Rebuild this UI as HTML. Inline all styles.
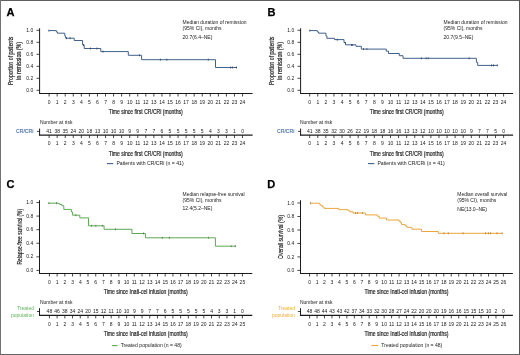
<!DOCTYPE html>
<html><head><meta charset="utf-8"><style>
html,body{margin:0;padding:0;background:#fff;}
body{width:520px;height:355px;overflow:hidden;position:relative;}
svg{position:absolute;left:0;top:0;will-change:transform;}
text{font-family:"Liberation Sans", sans-serif;}

</style></head><body>
<svg width="520" height="355" viewBox="0 0 520 355">
<rect x="0" y="0" width="520" height="355" fill="#fff"/>
<text x="6.60" y="15.60" font-size="10.6" font-weight="bold" textLength="8.00" lengthAdjust="spacingAndGlyphs" fill="#000" stroke="#000" stroke-width="0.25">A</text>
<line x1="39.60" y1="28.30" x2="39.60" y2="94.00" stroke="#1a1a1a" stroke-width="1"/>
<line x1="36.50" y1="90.30" x2="39.60" y2="90.30" stroke="#1a1a1a" stroke-width="0.8"/>
<text x="33.30" y="91.90" font-size="5.0" text-anchor="end" fill="#1a1a1a">0.0</text>
<line x1="36.50" y1="78.30" x2="39.60" y2="78.30" stroke="#1a1a1a" stroke-width="0.8"/>
<text x="33.30" y="79.90" font-size="5.0" text-anchor="end" fill="#1a1a1a">0.2</text>
<line x1="36.50" y1="66.30" x2="39.60" y2="66.30" stroke="#1a1a1a" stroke-width="0.8"/>
<text x="33.30" y="67.90" font-size="5.0" text-anchor="end" fill="#1a1a1a">0.4</text>
<line x1="36.50" y1="54.30" x2="39.60" y2="54.30" stroke="#1a1a1a" stroke-width="0.8"/>
<text x="33.30" y="55.90" font-size="5.0" text-anchor="end" fill="#1a1a1a">0.6</text>
<line x1="36.50" y1="42.30" x2="39.60" y2="42.30" stroke="#1a1a1a" stroke-width="0.8"/>
<text x="33.30" y="43.90" font-size="5.0" text-anchor="end" fill="#1a1a1a">0.8</text>
<line x1="36.50" y1="30.30" x2="39.60" y2="30.30" stroke="#1a1a1a" stroke-width="0.8"/>
<text x="33.30" y="31.90" font-size="5.0" text-anchor="end" fill="#1a1a1a">1.0</text>
<line x1="39.10" y1="93.50" x2="252.60" y2="93.50" stroke="#1a1a1a" stroke-width="1"/>
<line x1="49.10" y1="93.50" x2="49.10" y2="96.50" stroke="#1a1a1a" stroke-width="0.8"/>
<text x="49.10" y="104.30" font-size="5.0" text-anchor="middle" fill="#1a1a1a">0</text>
<line x1="57.16" y1="93.50" x2="57.16" y2="96.50" stroke="#1a1a1a" stroke-width="0.8"/>
<text x="57.16" y="104.30" font-size="5.0" text-anchor="middle" fill="#1a1a1a">1</text>
<line x1="65.22" y1="93.50" x2="65.22" y2="96.50" stroke="#1a1a1a" stroke-width="0.8"/>
<text x="65.22" y="104.30" font-size="5.0" text-anchor="middle" fill="#1a1a1a">2</text>
<line x1="73.28" y1="93.50" x2="73.28" y2="96.50" stroke="#1a1a1a" stroke-width="0.8"/>
<text x="73.28" y="104.30" font-size="5.0" text-anchor="middle" fill="#1a1a1a">3</text>
<line x1="81.34" y1="93.50" x2="81.34" y2="96.50" stroke="#1a1a1a" stroke-width="0.8"/>
<text x="81.34" y="104.30" font-size="5.0" text-anchor="middle" fill="#1a1a1a">4</text>
<line x1="89.40" y1="93.50" x2="89.40" y2="96.50" stroke="#1a1a1a" stroke-width="0.8"/>
<text x="89.40" y="104.30" font-size="5.0" text-anchor="middle" fill="#1a1a1a">5</text>
<line x1="97.46" y1="93.50" x2="97.46" y2="96.50" stroke="#1a1a1a" stroke-width="0.8"/>
<text x="97.46" y="104.30" font-size="5.0" text-anchor="middle" fill="#1a1a1a">6</text>
<line x1="105.52" y1="93.50" x2="105.52" y2="96.50" stroke="#1a1a1a" stroke-width="0.8"/>
<text x="105.52" y="104.30" font-size="5.0" text-anchor="middle" fill="#1a1a1a">7</text>
<line x1="113.58" y1="93.50" x2="113.58" y2="96.50" stroke="#1a1a1a" stroke-width="0.8"/>
<text x="113.58" y="104.30" font-size="5.0" text-anchor="middle" fill="#1a1a1a">8</text>
<line x1="121.64" y1="93.50" x2="121.64" y2="96.50" stroke="#1a1a1a" stroke-width="0.8"/>
<text x="121.64" y="104.30" font-size="5.0" text-anchor="middle" fill="#1a1a1a">9</text>
<line x1="129.70" y1="93.50" x2="129.70" y2="96.50" stroke="#1a1a1a" stroke-width="0.8"/>
<text x="129.70" y="104.30" font-size="5.0" text-anchor="middle" fill="#1a1a1a">10</text>
<line x1="137.76" y1="93.50" x2="137.76" y2="96.50" stroke="#1a1a1a" stroke-width="0.8"/>
<text x="137.76" y="104.30" font-size="5.0" text-anchor="middle" fill="#1a1a1a">11</text>
<line x1="145.82" y1="93.50" x2="145.82" y2="96.50" stroke="#1a1a1a" stroke-width="0.8"/>
<text x="145.82" y="104.30" font-size="5.0" text-anchor="middle" fill="#1a1a1a">12</text>
<line x1="153.88" y1="93.50" x2="153.88" y2="96.50" stroke="#1a1a1a" stroke-width="0.8"/>
<text x="153.88" y="104.30" font-size="5.0" text-anchor="middle" fill="#1a1a1a">13</text>
<line x1="161.94" y1="93.50" x2="161.94" y2="96.50" stroke="#1a1a1a" stroke-width="0.8"/>
<text x="161.94" y="104.30" font-size="5.0" text-anchor="middle" fill="#1a1a1a">14</text>
<line x1="170.00" y1="93.50" x2="170.00" y2="96.50" stroke="#1a1a1a" stroke-width="0.8"/>
<text x="170.00" y="104.30" font-size="5.0" text-anchor="middle" fill="#1a1a1a">15</text>
<line x1="178.06" y1="93.50" x2="178.06" y2="96.50" stroke="#1a1a1a" stroke-width="0.8"/>
<text x="178.06" y="104.30" font-size="5.0" text-anchor="middle" fill="#1a1a1a">16</text>
<line x1="186.12" y1="93.50" x2="186.12" y2="96.50" stroke="#1a1a1a" stroke-width="0.8"/>
<text x="186.12" y="104.30" font-size="5.0" text-anchor="middle" fill="#1a1a1a">17</text>
<line x1="194.18" y1="93.50" x2="194.18" y2="96.50" stroke="#1a1a1a" stroke-width="0.8"/>
<text x="194.18" y="104.30" font-size="5.0" text-anchor="middle" fill="#1a1a1a">18</text>
<line x1="202.24" y1="93.50" x2="202.24" y2="96.50" stroke="#1a1a1a" stroke-width="0.8"/>
<text x="202.24" y="104.30" font-size="5.0" text-anchor="middle" fill="#1a1a1a">19</text>
<line x1="210.30" y1="93.50" x2="210.30" y2="96.50" stroke="#1a1a1a" stroke-width="0.8"/>
<text x="210.30" y="104.30" font-size="5.0" text-anchor="middle" fill="#1a1a1a">20</text>
<line x1="218.36" y1="93.50" x2="218.36" y2="96.50" stroke="#1a1a1a" stroke-width="0.8"/>
<text x="218.36" y="104.30" font-size="5.0" text-anchor="middle" fill="#1a1a1a">21</text>
<line x1="226.42" y1="93.50" x2="226.42" y2="96.50" stroke="#1a1a1a" stroke-width="0.8"/>
<text x="226.42" y="104.30" font-size="5.0" text-anchor="middle" fill="#1a1a1a">22</text>
<line x1="234.48" y1="93.50" x2="234.48" y2="96.50" stroke="#1a1a1a" stroke-width="0.8"/>
<text x="234.48" y="104.30" font-size="5.0" text-anchor="middle" fill="#1a1a1a">23</text>
<line x1="242.54" y1="93.50" x2="242.54" y2="96.50" stroke="#1a1a1a" stroke-width="0.8"/>
<text x="242.54" y="104.30" font-size="5.0" text-anchor="middle" fill="#1a1a1a">24</text>
<text x="108.80" y="114.00" font-size="7.5" textLength="74.00" lengthAdjust="spacingAndGlyphs" fill="#1a1a1a" stroke="#1a1a1a" stroke-width="0.2">Time since first CR/CRi (months)</text>
<text transform="translate(12.50,60.85) rotate(-90)" font-size="7" text-anchor="middle" stroke="#1a1a1a" stroke-width="0.18" textLength="48.40" lengthAdjust="spacingAndGlyphs" fill="#1a1a1a">Proportion of patients</text>
<text transform="translate(21.00,60.85) rotate(-90)" font-size="7" text-anchor="middle" stroke="#1a1a1a" stroke-width="0.18" textLength="37.60" lengthAdjust="spacingAndGlyphs" fill="#1a1a1a">in remission (%)</text>
<text x="182.60" y="23.80" font-size="5" textLength="63.90" lengthAdjust="spacingAndGlyphs" fill="#1a1a1a">Median duration of remission</text>
<text x="182.60" y="30.00" font-size="5" fill="#1a1a1a">(95% CI), months</text>
<text x="182.60" y="39.20" font-size="5" fill="#1a1a1a">20.7(6.4–NE)</text>
<path d="M49.00,30.60 H56.40 V31.90 H57.40 V33.20 H64.80 V36.00 H65.60 V38.20 H74.20 V40.50 H82.60 V45.00 H84.20 V48.50 H100.80 V51.60 H128.30 V55.30 H141.60 V59.70 H215.50 V67.50 H237.00" fill="none" stroke="#41618a" stroke-width="1.0"/>
<line x1="48.80" y1="29.60" x2="48.80" y2="31.60" stroke="#2d4563" stroke-width="0.8"/>
<line x1="66.50" y1="37.20" x2="66.50" y2="39.20" stroke="#2d4563" stroke-width="0.8"/>
<line x1="70.00" y1="37.20" x2="70.00" y2="39.20" stroke="#2d4563" stroke-width="0.8"/>
<line x1="83.50" y1="44.00" x2="83.50" y2="46.00" stroke="#2d4563" stroke-width="0.8"/>
<line x1="90.40" y1="47.50" x2="90.40" y2="49.50" stroke="#2d4563" stroke-width="0.8"/>
<line x1="96.90" y1="47.50" x2="96.90" y2="49.50" stroke="#2d4563" stroke-width="0.8"/>
<line x1="103.00" y1="50.60" x2="103.00" y2="52.60" stroke="#2d4563" stroke-width="0.8"/>
<line x1="139.50" y1="54.30" x2="139.50" y2="56.30" stroke="#2d4563" stroke-width="0.8"/>
<line x1="160.40" y1="58.70" x2="160.40" y2="60.70" stroke="#2d4563" stroke-width="0.8"/>
<line x1="166.80" y1="58.70" x2="166.80" y2="60.70" stroke="#2d4563" stroke-width="0.8"/>
<line x1="208.30" y1="58.70" x2="208.30" y2="60.70" stroke="#2d4563" stroke-width="0.8"/>
<line x1="230.40" y1="66.50" x2="230.40" y2="68.50" stroke="#2d4563" stroke-width="0.8"/>
<line x1="232.40" y1="66.50" x2="232.40" y2="68.50" stroke="#2d4563" stroke-width="0.8"/>
<line x1="236.50" y1="66.50" x2="236.50" y2="68.50" stroke="#2d4563" stroke-width="0.8"/>
<text x="40.00" y="123.80" font-size="5" textLength="32.40" lengthAdjust="spacingAndGlyphs" fill="#1a1a1a">Number at risk</text>
<text x="33.40" y="133.20" font-size="5" text-anchor="end" textLength="17.40" lengthAdjust="spacingAndGlyphs" fill="#4a70a5" stroke="#4a70a5" stroke-width="0.12">CR/CRi</text>
<line x1="39.60" y1="128.60" x2="39.60" y2="135.60" stroke="#1a1a1a" stroke-width="1"/>
<line x1="37.00" y1="131.40" x2="39.60" y2="131.40" stroke="#1a1a1a" stroke-width="0.8"/>
<line x1="39.10" y1="135.10" x2="252.60" y2="135.10" stroke="#1a1a1a" stroke-width="1.2"/>
<line x1="49.10" y1="135.10" x2="49.10" y2="138.10" stroke="#1a1a1a" stroke-width="0.8"/>
<text x="49.10" y="145.30" font-size="5.0" text-anchor="middle" fill="#1a1a1a">0</text>
<text x="49.10" y="133.10" font-size="5.0" text-anchor="middle" fill="#1a1a1a">41</text>
<line x1="57.16" y1="135.10" x2="57.16" y2="138.10" stroke="#1a1a1a" stroke-width="0.8"/>
<text x="57.16" y="145.30" font-size="5.0" text-anchor="middle" fill="#1a1a1a">1</text>
<text x="57.16" y="133.10" font-size="5.0" text-anchor="middle" fill="#1a1a1a">38</text>
<line x1="65.22" y1="135.10" x2="65.22" y2="138.10" stroke="#1a1a1a" stroke-width="0.8"/>
<text x="65.22" y="145.30" font-size="5.0" text-anchor="middle" fill="#1a1a1a">2</text>
<text x="65.22" y="133.10" font-size="5.0" text-anchor="middle" fill="#1a1a1a">35</text>
<line x1="73.28" y1="135.10" x2="73.28" y2="138.10" stroke="#1a1a1a" stroke-width="0.8"/>
<text x="73.28" y="145.30" font-size="5.0" text-anchor="middle" fill="#1a1a1a">3</text>
<text x="73.28" y="133.10" font-size="5.0" text-anchor="middle" fill="#1a1a1a">24</text>
<line x1="81.34" y1="135.10" x2="81.34" y2="138.10" stroke="#1a1a1a" stroke-width="0.8"/>
<text x="81.34" y="145.30" font-size="5.0" text-anchor="middle" fill="#1a1a1a">4</text>
<text x="81.34" y="133.10" font-size="5.0" text-anchor="middle" fill="#1a1a1a">20</text>
<line x1="89.40" y1="135.10" x2="89.40" y2="138.10" stroke="#1a1a1a" stroke-width="0.8"/>
<text x="89.40" y="145.30" font-size="5.0" text-anchor="middle" fill="#1a1a1a">5</text>
<text x="89.40" y="133.10" font-size="5.0" text-anchor="middle" fill="#1a1a1a">18</text>
<line x1="97.46" y1="135.10" x2="97.46" y2="138.10" stroke="#1a1a1a" stroke-width="0.8"/>
<text x="97.46" y="145.30" font-size="5.0" text-anchor="middle" fill="#1a1a1a">6</text>
<text x="97.46" y="133.10" font-size="5.0" text-anchor="middle" fill="#1a1a1a">13</text>
<line x1="105.52" y1="135.10" x2="105.52" y2="138.10" stroke="#1a1a1a" stroke-width="0.8"/>
<text x="105.52" y="145.30" font-size="5.0" text-anchor="middle" fill="#1a1a1a">7</text>
<text x="105.52" y="133.10" font-size="5.0" text-anchor="middle" fill="#1a1a1a">10</text>
<line x1="113.58" y1="135.10" x2="113.58" y2="138.10" stroke="#1a1a1a" stroke-width="0.8"/>
<text x="113.58" y="145.30" font-size="5.0" text-anchor="middle" fill="#1a1a1a">8</text>
<text x="113.58" y="133.10" font-size="5.0" text-anchor="middle" fill="#1a1a1a">10</text>
<line x1="121.64" y1="135.10" x2="121.64" y2="138.10" stroke="#1a1a1a" stroke-width="0.8"/>
<text x="121.64" y="145.30" font-size="5.0" text-anchor="middle" fill="#1a1a1a">9</text>
<text x="121.64" y="133.10" font-size="5.0" text-anchor="middle" fill="#1a1a1a">10</text>
<line x1="129.70" y1="135.10" x2="129.70" y2="138.10" stroke="#1a1a1a" stroke-width="0.8"/>
<text x="129.70" y="145.30" font-size="5.0" text-anchor="middle" fill="#1a1a1a">10</text>
<text x="129.70" y="133.10" font-size="5.0" text-anchor="middle" fill="#1a1a1a">9</text>
<line x1="137.76" y1="135.10" x2="137.76" y2="138.10" stroke="#1a1a1a" stroke-width="0.8"/>
<text x="137.76" y="145.30" font-size="5.0" text-anchor="middle" fill="#1a1a1a">11</text>
<text x="137.76" y="133.10" font-size="5.0" text-anchor="middle" fill="#1a1a1a">9</text>
<line x1="145.82" y1="135.10" x2="145.82" y2="138.10" stroke="#1a1a1a" stroke-width="0.8"/>
<text x="145.82" y="145.30" font-size="5.0" text-anchor="middle" fill="#1a1a1a">12</text>
<text x="145.82" y="133.10" font-size="5.0" text-anchor="middle" fill="#1a1a1a">7</text>
<line x1="153.88" y1="135.10" x2="153.88" y2="138.10" stroke="#1a1a1a" stroke-width="0.8"/>
<text x="153.88" y="145.30" font-size="5.0" text-anchor="middle" fill="#1a1a1a">13</text>
<text x="153.88" y="133.10" font-size="5.0" text-anchor="middle" fill="#1a1a1a">7</text>
<line x1="161.94" y1="135.10" x2="161.94" y2="138.10" stroke="#1a1a1a" stroke-width="0.8"/>
<text x="161.94" y="145.30" font-size="5.0" text-anchor="middle" fill="#1a1a1a">14</text>
<text x="161.94" y="133.10" font-size="5.0" text-anchor="middle" fill="#1a1a1a">6</text>
<line x1="170.00" y1="135.10" x2="170.00" y2="138.10" stroke="#1a1a1a" stroke-width="0.8"/>
<text x="170.00" y="145.30" font-size="5.0" text-anchor="middle" fill="#1a1a1a">15</text>
<text x="170.00" y="133.10" font-size="5.0" text-anchor="middle" fill="#1a1a1a">5</text>
<line x1="178.06" y1="135.10" x2="178.06" y2="138.10" stroke="#1a1a1a" stroke-width="0.8"/>
<text x="178.06" y="145.30" font-size="5.0" text-anchor="middle" fill="#1a1a1a">16</text>
<text x="178.06" y="133.10" font-size="5.0" text-anchor="middle" fill="#1a1a1a">5</text>
<line x1="186.12" y1="135.10" x2="186.12" y2="138.10" stroke="#1a1a1a" stroke-width="0.8"/>
<text x="186.12" y="145.30" font-size="5.0" text-anchor="middle" fill="#1a1a1a">17</text>
<text x="186.12" y="133.10" font-size="5.0" text-anchor="middle" fill="#1a1a1a">5</text>
<line x1="194.18" y1="135.10" x2="194.18" y2="138.10" stroke="#1a1a1a" stroke-width="0.8"/>
<text x="194.18" y="145.30" font-size="5.0" text-anchor="middle" fill="#1a1a1a">18</text>
<text x="194.18" y="133.10" font-size="5.0" text-anchor="middle" fill="#1a1a1a">5</text>
<line x1="202.24" y1="135.10" x2="202.24" y2="138.10" stroke="#1a1a1a" stroke-width="0.8"/>
<text x="202.24" y="145.30" font-size="5.0" text-anchor="middle" fill="#1a1a1a">19</text>
<text x="202.24" y="133.10" font-size="5.0" text-anchor="middle" fill="#1a1a1a">5</text>
<line x1="210.30" y1="135.10" x2="210.30" y2="138.10" stroke="#1a1a1a" stroke-width="0.8"/>
<text x="210.30" y="145.30" font-size="5.0" text-anchor="middle" fill="#1a1a1a">20</text>
<text x="210.30" y="133.10" font-size="5.0" text-anchor="middle" fill="#1a1a1a">4</text>
<line x1="218.36" y1="135.10" x2="218.36" y2="138.10" stroke="#1a1a1a" stroke-width="0.8"/>
<text x="218.36" y="145.30" font-size="5.0" text-anchor="middle" fill="#1a1a1a">21</text>
<text x="218.36" y="133.10" font-size="5.0" text-anchor="middle" fill="#1a1a1a">3</text>
<line x1="226.42" y1="135.10" x2="226.42" y2="138.10" stroke="#1a1a1a" stroke-width="0.8"/>
<text x="226.42" y="145.30" font-size="5.0" text-anchor="middle" fill="#1a1a1a">22</text>
<text x="226.42" y="133.10" font-size="5.0" text-anchor="middle" fill="#1a1a1a">3</text>
<line x1="234.48" y1="135.10" x2="234.48" y2="138.10" stroke="#1a1a1a" stroke-width="0.8"/>
<text x="234.48" y="145.30" font-size="5.0" text-anchor="middle" fill="#1a1a1a">23</text>
<text x="234.48" y="133.10" font-size="5.0" text-anchor="middle" fill="#1a1a1a">1</text>
<line x1="242.54" y1="135.10" x2="242.54" y2="138.10" stroke="#1a1a1a" stroke-width="0.8"/>
<text x="242.54" y="145.30" font-size="5.0" text-anchor="middle" fill="#1a1a1a">24</text>
<text x="242.54" y="133.10" font-size="5.0" text-anchor="middle" fill="#1a1a1a">0</text>
<text x="108.80" y="155.90" font-size="7.5" textLength="74.00" lengthAdjust="spacingAndGlyphs" fill="#1a1a1a" stroke="#1a1a1a" stroke-width="0.2">Time since first CR/CRi (months)</text>
<line x1="107.00" y1="163.60" x2="113.30" y2="163.60" stroke="#41618a" stroke-width="1.1"/>
<text x="116.40" y="165.40" font-size="5" textLength="67.30" lengthAdjust="spacingAndGlyphs" fill="#1a1a1a">Patients with CR/CRi (n = 41)</text>
<text x="267.60" y="15.60" font-size="10.6" font-weight="bold" textLength="8.00" lengthAdjust="spacingAndGlyphs" fill="#000" stroke="#000" stroke-width="0.25">B</text>
<line x1="300.60" y1="28.30" x2="300.60" y2="94.00" stroke="#1a1a1a" stroke-width="1"/>
<line x1="297.50" y1="90.30" x2="300.60" y2="90.30" stroke="#1a1a1a" stroke-width="0.8"/>
<text x="294.30" y="91.90" font-size="5.0" text-anchor="end" fill="#1a1a1a">0.0</text>
<line x1="297.50" y1="78.30" x2="300.60" y2="78.30" stroke="#1a1a1a" stroke-width="0.8"/>
<text x="294.30" y="79.90" font-size="5.0" text-anchor="end" fill="#1a1a1a">0.2</text>
<line x1="297.50" y1="66.30" x2="300.60" y2="66.30" stroke="#1a1a1a" stroke-width="0.8"/>
<text x="294.30" y="67.90" font-size="5.0" text-anchor="end" fill="#1a1a1a">0.4</text>
<line x1="297.50" y1="54.30" x2="300.60" y2="54.30" stroke="#1a1a1a" stroke-width="0.8"/>
<text x="294.30" y="55.90" font-size="5.0" text-anchor="end" fill="#1a1a1a">0.6</text>
<line x1="297.50" y1="42.30" x2="300.60" y2="42.30" stroke="#1a1a1a" stroke-width="0.8"/>
<text x="294.30" y="43.90" font-size="5.0" text-anchor="end" fill="#1a1a1a">0.8</text>
<line x1="297.50" y1="30.30" x2="300.60" y2="30.30" stroke="#1a1a1a" stroke-width="0.8"/>
<text x="294.30" y="31.90" font-size="5.0" text-anchor="end" fill="#1a1a1a">1.0</text>
<line x1="300.10" y1="93.50" x2="513.10" y2="93.50" stroke="#1a1a1a" stroke-width="1"/>
<line x1="309.70" y1="93.50" x2="309.70" y2="96.50" stroke="#1a1a1a" stroke-width="0.8"/>
<text x="309.70" y="104.30" font-size="5.0" text-anchor="middle" fill="#1a1a1a">0</text>
<line x1="317.78" y1="93.50" x2="317.78" y2="96.50" stroke="#1a1a1a" stroke-width="0.8"/>
<text x="317.78" y="104.30" font-size="5.0" text-anchor="middle" fill="#1a1a1a">1</text>
<line x1="325.86" y1="93.50" x2="325.86" y2="96.50" stroke="#1a1a1a" stroke-width="0.8"/>
<text x="325.86" y="104.30" font-size="5.0" text-anchor="middle" fill="#1a1a1a">2</text>
<line x1="333.94" y1="93.50" x2="333.94" y2="96.50" stroke="#1a1a1a" stroke-width="0.8"/>
<text x="333.94" y="104.30" font-size="5.0" text-anchor="middle" fill="#1a1a1a">3</text>
<line x1="342.02" y1="93.50" x2="342.02" y2="96.50" stroke="#1a1a1a" stroke-width="0.8"/>
<text x="342.02" y="104.30" font-size="5.0" text-anchor="middle" fill="#1a1a1a">4</text>
<line x1="350.10" y1="93.50" x2="350.10" y2="96.50" stroke="#1a1a1a" stroke-width="0.8"/>
<text x="350.10" y="104.30" font-size="5.0" text-anchor="middle" fill="#1a1a1a">5</text>
<line x1="358.18" y1="93.50" x2="358.18" y2="96.50" stroke="#1a1a1a" stroke-width="0.8"/>
<text x="358.18" y="104.30" font-size="5.0" text-anchor="middle" fill="#1a1a1a">6</text>
<line x1="366.26" y1="93.50" x2="366.26" y2="96.50" stroke="#1a1a1a" stroke-width="0.8"/>
<text x="366.26" y="104.30" font-size="5.0" text-anchor="middle" fill="#1a1a1a">7</text>
<line x1="374.34" y1="93.50" x2="374.34" y2="96.50" stroke="#1a1a1a" stroke-width="0.8"/>
<text x="374.34" y="104.30" font-size="5.0" text-anchor="middle" fill="#1a1a1a">8</text>
<line x1="382.42" y1="93.50" x2="382.42" y2="96.50" stroke="#1a1a1a" stroke-width="0.8"/>
<text x="382.42" y="104.30" font-size="5.0" text-anchor="middle" fill="#1a1a1a">9</text>
<line x1="390.50" y1="93.50" x2="390.50" y2="96.50" stroke="#1a1a1a" stroke-width="0.8"/>
<text x="390.50" y="104.30" font-size="5.0" text-anchor="middle" fill="#1a1a1a">10</text>
<line x1="398.58" y1="93.50" x2="398.58" y2="96.50" stroke="#1a1a1a" stroke-width="0.8"/>
<text x="398.58" y="104.30" font-size="5.0" text-anchor="middle" fill="#1a1a1a">11</text>
<line x1="406.66" y1="93.50" x2="406.66" y2="96.50" stroke="#1a1a1a" stroke-width="0.8"/>
<text x="406.66" y="104.30" font-size="5.0" text-anchor="middle" fill="#1a1a1a">12</text>
<line x1="414.74" y1="93.50" x2="414.74" y2="96.50" stroke="#1a1a1a" stroke-width="0.8"/>
<text x="414.74" y="104.30" font-size="5.0" text-anchor="middle" fill="#1a1a1a">13</text>
<line x1="422.82" y1="93.50" x2="422.82" y2="96.50" stroke="#1a1a1a" stroke-width="0.8"/>
<text x="422.82" y="104.30" font-size="5.0" text-anchor="middle" fill="#1a1a1a">14</text>
<line x1="430.90" y1="93.50" x2="430.90" y2="96.50" stroke="#1a1a1a" stroke-width="0.8"/>
<text x="430.90" y="104.30" font-size="5.0" text-anchor="middle" fill="#1a1a1a">15</text>
<line x1="438.98" y1="93.50" x2="438.98" y2="96.50" stroke="#1a1a1a" stroke-width="0.8"/>
<text x="438.98" y="104.30" font-size="5.0" text-anchor="middle" fill="#1a1a1a">16</text>
<line x1="447.06" y1="93.50" x2="447.06" y2="96.50" stroke="#1a1a1a" stroke-width="0.8"/>
<text x="447.06" y="104.30" font-size="5.0" text-anchor="middle" fill="#1a1a1a">17</text>
<line x1="455.14" y1="93.50" x2="455.14" y2="96.50" stroke="#1a1a1a" stroke-width="0.8"/>
<text x="455.14" y="104.30" font-size="5.0" text-anchor="middle" fill="#1a1a1a">18</text>
<line x1="463.22" y1="93.50" x2="463.22" y2="96.50" stroke="#1a1a1a" stroke-width="0.8"/>
<text x="463.22" y="104.30" font-size="5.0" text-anchor="middle" fill="#1a1a1a">19</text>
<line x1="471.30" y1="93.50" x2="471.30" y2="96.50" stroke="#1a1a1a" stroke-width="0.8"/>
<text x="471.30" y="104.30" font-size="5.0" text-anchor="middle" fill="#1a1a1a">20</text>
<line x1="479.38" y1="93.50" x2="479.38" y2="96.50" stroke="#1a1a1a" stroke-width="0.8"/>
<text x="479.38" y="104.30" font-size="5.0" text-anchor="middle" fill="#1a1a1a">21</text>
<line x1="487.46" y1="93.50" x2="487.46" y2="96.50" stroke="#1a1a1a" stroke-width="0.8"/>
<text x="487.46" y="104.30" font-size="5.0" text-anchor="middle" fill="#1a1a1a">22</text>
<line x1="495.54" y1="93.50" x2="495.54" y2="96.50" stroke="#1a1a1a" stroke-width="0.8"/>
<text x="495.54" y="104.30" font-size="5.0" text-anchor="middle" fill="#1a1a1a">23</text>
<line x1="503.62" y1="93.50" x2="503.62" y2="96.50" stroke="#1a1a1a" stroke-width="0.8"/>
<text x="503.62" y="104.30" font-size="5.0" text-anchor="middle" fill="#1a1a1a">24</text>
<text x="369.80" y="114.00" font-size="7.5" textLength="74.00" lengthAdjust="spacingAndGlyphs" fill="#1a1a1a" stroke="#1a1a1a" stroke-width="0.2">Time since first CR/CRi (months)</text>
<text transform="translate(273.50,60.85) rotate(-90)" font-size="7" text-anchor="middle" stroke="#1a1a1a" stroke-width="0.18" textLength="48.40" lengthAdjust="spacingAndGlyphs" fill="#1a1a1a">Proportion of patients</text>
<text transform="translate(282.00,60.85) rotate(-90)" font-size="7" text-anchor="middle" stroke="#1a1a1a" stroke-width="0.18" textLength="37.60" lengthAdjust="spacingAndGlyphs" fill="#1a1a1a">in remission (%)</text>
<text x="443.60" y="23.80" font-size="5" textLength="63.90" lengthAdjust="spacingAndGlyphs" fill="#1a1a1a">Median duration of remission</text>
<text x="443.60" y="30.00" font-size="5" fill="#1a1a1a">(95% CI), months</text>
<text x="443.60" y="39.20" font-size="5" fill="#1a1a1a">20.7(9.5–NE)</text>
<path d="M309.60,30.60 H317.30 V31.90 H318.60 V33.20 H326.00 V36.00 H326.90 V38.30 H334.50 V39.60 H344.00 V42.50 H345.50 V44.80 H356.00 V46.30 H361.30 V49.10 H386.30 V51.20 H388.50 V53.50 H399.30 V55.70 H403.00 V58.30 H476.40 V62.30 H477.70 V65.40 H497.50" fill="none" stroke="#41618a" stroke-width="1.0"/>
<line x1="309.80" y1="29.60" x2="309.80" y2="31.60" stroke="#2d4563" stroke-width="0.8"/>
<line x1="337.30" y1="38.70" x2="337.30" y2="40.70" stroke="#2d4563" stroke-width="0.8"/>
<line x1="345.40" y1="42.10" x2="345.40" y2="44.10" stroke="#2d4563" stroke-width="0.8"/>
<line x1="351.50" y1="44.00" x2="351.50" y2="46.00" stroke="#2d4563" stroke-width="0.8"/>
<line x1="352.70" y1="44.00" x2="352.70" y2="46.00" stroke="#2d4563" stroke-width="0.8"/>
<line x1="363.50" y1="48.10" x2="363.50" y2="50.10" stroke="#2d4563" stroke-width="0.8"/>
<line x1="366.90" y1="48.10" x2="366.90" y2="50.10" stroke="#2d4563" stroke-width="0.8"/>
<line x1="421.40" y1="57.30" x2="421.40" y2="59.30" stroke="#2d4563" stroke-width="0.8"/>
<line x1="426.20" y1="57.30" x2="426.20" y2="59.30" stroke="#2d4563" stroke-width="0.8"/>
<line x1="428.30" y1="57.30" x2="428.30" y2="59.30" stroke="#2d4563" stroke-width="0.8"/>
<line x1="469.20" y1="57.30" x2="469.20" y2="59.30" stroke="#2d4563" stroke-width="0.8"/>
<line x1="491.50" y1="64.40" x2="491.50" y2="66.40" stroke="#2d4563" stroke-width="0.8"/>
<line x1="493.50" y1="64.40" x2="493.50" y2="66.40" stroke="#2d4563" stroke-width="0.8"/>
<line x1="497.30" y1="64.40" x2="497.30" y2="66.40" stroke="#2d4563" stroke-width="0.8"/>
<text x="299.90" y="123.80" font-size="5" textLength="32.40" lengthAdjust="spacingAndGlyphs" fill="#1a1a1a">Number at risk</text>
<text x="294.40" y="133.20" font-size="5" text-anchor="end" textLength="17.40" lengthAdjust="spacingAndGlyphs" fill="#4a70a5" stroke="#4a70a5" stroke-width="0.12">CR/CRi</text>
<line x1="300.60" y1="128.60" x2="300.60" y2="135.60" stroke="#1a1a1a" stroke-width="1"/>
<line x1="298.00" y1="131.40" x2="300.60" y2="131.40" stroke="#1a1a1a" stroke-width="0.8"/>
<line x1="300.10" y1="135.10" x2="513.10" y2="135.10" stroke="#1a1a1a" stroke-width="1.2"/>
<line x1="309.70" y1="135.10" x2="309.70" y2="138.10" stroke="#1a1a1a" stroke-width="0.8"/>
<text x="309.70" y="145.30" font-size="5.0" text-anchor="middle" fill="#1a1a1a">0</text>
<text x="309.70" y="133.10" font-size="5.0" text-anchor="middle" fill="#1a1a1a">41</text>
<line x1="317.78" y1="135.10" x2="317.78" y2="138.10" stroke="#1a1a1a" stroke-width="0.8"/>
<text x="317.78" y="145.30" font-size="5.0" text-anchor="middle" fill="#1a1a1a">1</text>
<text x="317.78" y="133.10" font-size="5.0" text-anchor="middle" fill="#1a1a1a">38</text>
<line x1="325.86" y1="135.10" x2="325.86" y2="138.10" stroke="#1a1a1a" stroke-width="0.8"/>
<text x="325.86" y="145.30" font-size="5.0" text-anchor="middle" fill="#1a1a1a">2</text>
<text x="325.86" y="133.10" font-size="5.0" text-anchor="middle" fill="#1a1a1a">35</text>
<line x1="333.94" y1="135.10" x2="333.94" y2="138.10" stroke="#1a1a1a" stroke-width="0.8"/>
<text x="333.94" y="145.30" font-size="5.0" text-anchor="middle" fill="#1a1a1a">3</text>
<text x="333.94" y="133.10" font-size="5.0" text-anchor="middle" fill="#1a1a1a">32</text>
<line x1="342.02" y1="135.10" x2="342.02" y2="138.10" stroke="#1a1a1a" stroke-width="0.8"/>
<text x="342.02" y="145.30" font-size="5.0" text-anchor="middle" fill="#1a1a1a">4</text>
<text x="342.02" y="133.10" font-size="5.0" text-anchor="middle" fill="#1a1a1a">30</text>
<line x1="350.10" y1="135.10" x2="350.10" y2="138.10" stroke="#1a1a1a" stroke-width="0.8"/>
<text x="350.10" y="145.30" font-size="5.0" text-anchor="middle" fill="#1a1a1a">5</text>
<text x="350.10" y="133.10" font-size="5.0" text-anchor="middle" fill="#1a1a1a">26</text>
<line x1="358.18" y1="135.10" x2="358.18" y2="138.10" stroke="#1a1a1a" stroke-width="0.8"/>
<text x="358.18" y="145.30" font-size="5.0" text-anchor="middle" fill="#1a1a1a">6</text>
<text x="358.18" y="133.10" font-size="5.0" text-anchor="middle" fill="#1a1a1a">22</text>
<line x1="366.26" y1="135.10" x2="366.26" y2="138.10" stroke="#1a1a1a" stroke-width="0.8"/>
<text x="366.26" y="145.30" font-size="5.0" text-anchor="middle" fill="#1a1a1a">7</text>
<text x="366.26" y="133.10" font-size="5.0" text-anchor="middle" fill="#1a1a1a">19</text>
<line x1="374.34" y1="135.10" x2="374.34" y2="138.10" stroke="#1a1a1a" stroke-width="0.8"/>
<text x="374.34" y="145.30" font-size="5.0" text-anchor="middle" fill="#1a1a1a">8</text>
<text x="374.34" y="133.10" font-size="5.0" text-anchor="middle" fill="#1a1a1a">18</text>
<line x1="382.42" y1="135.10" x2="382.42" y2="138.10" stroke="#1a1a1a" stroke-width="0.8"/>
<text x="382.42" y="145.30" font-size="5.0" text-anchor="middle" fill="#1a1a1a">9</text>
<text x="382.42" y="133.10" font-size="5.0" text-anchor="middle" fill="#1a1a1a">18</text>
<line x1="390.50" y1="135.10" x2="390.50" y2="138.10" stroke="#1a1a1a" stroke-width="0.8"/>
<text x="390.50" y="145.30" font-size="5.0" text-anchor="middle" fill="#1a1a1a">10</text>
<text x="390.50" y="133.10" font-size="5.0" text-anchor="middle" fill="#1a1a1a">16</text>
<line x1="398.58" y1="135.10" x2="398.58" y2="138.10" stroke="#1a1a1a" stroke-width="0.8"/>
<text x="398.58" y="145.30" font-size="5.0" text-anchor="middle" fill="#1a1a1a">11</text>
<text x="398.58" y="133.10" font-size="5.0" text-anchor="middle" fill="#1a1a1a">16</text>
<line x1="406.66" y1="135.10" x2="406.66" y2="138.10" stroke="#1a1a1a" stroke-width="0.8"/>
<text x="406.66" y="145.30" font-size="5.0" text-anchor="middle" fill="#1a1a1a">12</text>
<text x="406.66" y="133.10" font-size="5.0" text-anchor="middle" fill="#1a1a1a">13</text>
<line x1="414.74" y1="135.10" x2="414.74" y2="138.10" stroke="#1a1a1a" stroke-width="0.8"/>
<text x="414.74" y="145.30" font-size="5.0" text-anchor="middle" fill="#1a1a1a">13</text>
<text x="414.74" y="133.10" font-size="5.0" text-anchor="middle" fill="#1a1a1a">13</text>
<line x1="422.82" y1="135.10" x2="422.82" y2="138.10" stroke="#1a1a1a" stroke-width="0.8"/>
<text x="422.82" y="145.30" font-size="5.0" text-anchor="middle" fill="#1a1a1a">14</text>
<text x="422.82" y="133.10" font-size="5.0" text-anchor="middle" fill="#1a1a1a">12</text>
<line x1="430.90" y1="135.10" x2="430.90" y2="138.10" stroke="#1a1a1a" stroke-width="0.8"/>
<text x="430.90" y="145.30" font-size="5.0" text-anchor="middle" fill="#1a1a1a">15</text>
<text x="430.90" y="133.10" font-size="5.0" text-anchor="middle" fill="#1a1a1a">10</text>
<line x1="438.98" y1="135.10" x2="438.98" y2="138.10" stroke="#1a1a1a" stroke-width="0.8"/>
<text x="438.98" y="145.30" font-size="5.0" text-anchor="middle" fill="#1a1a1a">16</text>
<text x="438.98" y="133.10" font-size="5.0" text-anchor="middle" fill="#1a1a1a">10</text>
<line x1="447.06" y1="135.10" x2="447.06" y2="138.10" stroke="#1a1a1a" stroke-width="0.8"/>
<text x="447.06" y="145.30" font-size="5.0" text-anchor="middle" fill="#1a1a1a">17</text>
<text x="447.06" y="133.10" font-size="5.0" text-anchor="middle" fill="#1a1a1a">10</text>
<line x1="455.14" y1="135.10" x2="455.14" y2="138.10" stroke="#1a1a1a" stroke-width="0.8"/>
<text x="455.14" y="145.30" font-size="5.0" text-anchor="middle" fill="#1a1a1a">18</text>
<text x="455.14" y="133.10" font-size="5.0" text-anchor="middle" fill="#1a1a1a">10</text>
<line x1="463.22" y1="135.10" x2="463.22" y2="138.10" stroke="#1a1a1a" stroke-width="0.8"/>
<text x="463.22" y="145.30" font-size="5.0" text-anchor="middle" fill="#1a1a1a">19</text>
<text x="463.22" y="133.10" font-size="5.0" text-anchor="middle" fill="#1a1a1a">10</text>
<line x1="471.30" y1="135.10" x2="471.30" y2="138.10" stroke="#1a1a1a" stroke-width="0.8"/>
<text x="471.30" y="145.30" font-size="5.0" text-anchor="middle" fill="#1a1a1a">20</text>
<text x="471.30" y="133.10" font-size="5.0" text-anchor="middle" fill="#1a1a1a">9</text>
<line x1="479.38" y1="135.10" x2="479.38" y2="138.10" stroke="#1a1a1a" stroke-width="0.8"/>
<text x="479.38" y="145.30" font-size="5.0" text-anchor="middle" fill="#1a1a1a">21</text>
<text x="479.38" y="133.10" font-size="5.0" text-anchor="middle" fill="#1a1a1a">7</text>
<line x1="487.46" y1="135.10" x2="487.46" y2="138.10" stroke="#1a1a1a" stroke-width="0.8"/>
<text x="487.46" y="145.30" font-size="5.0" text-anchor="middle" fill="#1a1a1a">22</text>
<text x="487.46" y="133.10" font-size="5.0" text-anchor="middle" fill="#1a1a1a">7</text>
<line x1="495.54" y1="135.10" x2="495.54" y2="138.10" stroke="#1a1a1a" stroke-width="0.8"/>
<text x="495.54" y="145.30" font-size="5.0" text-anchor="middle" fill="#1a1a1a">23</text>
<text x="495.54" y="133.10" font-size="5.0" text-anchor="middle" fill="#1a1a1a">5</text>
<line x1="503.62" y1="135.10" x2="503.62" y2="138.10" stroke="#1a1a1a" stroke-width="0.8"/>
<text x="503.62" y="145.30" font-size="5.0" text-anchor="middle" fill="#1a1a1a">24</text>
<text x="503.62" y="133.10" font-size="5.0" text-anchor="middle" fill="#1a1a1a">0</text>
<text x="369.80" y="155.90" font-size="7.5" textLength="74.00" lengthAdjust="spacingAndGlyphs" fill="#1a1a1a" stroke="#1a1a1a" stroke-width="0.2">Time since first CR/CRi (months)</text>
<line x1="368.00" y1="163.60" x2="374.30" y2="163.60" stroke="#41618a" stroke-width="1.1"/>
<text x="377.40" y="165.40" font-size="5" textLength="67.30" lengthAdjust="spacingAndGlyphs" fill="#1a1a1a">Patients with CR/CRi (n = 41)</text>
<text x="6.60" y="187.80" font-size="10.6" font-weight="bold" textLength="8.00" lengthAdjust="spacingAndGlyphs" fill="#000" stroke="#000" stroke-width="0.25">C</text>
<line x1="39.50" y1="200.20" x2="39.50" y2="274.00" stroke="#1a1a1a" stroke-width="1"/>
<line x1="36.40" y1="270.40" x2="39.50" y2="270.40" stroke="#1a1a1a" stroke-width="0.8"/>
<text x="33.20" y="272.00" font-size="5.0" text-anchor="end" fill="#1a1a1a">0.0</text>
<line x1="36.40" y1="256.82" x2="39.50" y2="256.82" stroke="#1a1a1a" stroke-width="0.8"/>
<text x="33.20" y="258.42" font-size="5.0" text-anchor="end" fill="#1a1a1a">0.2</text>
<line x1="36.40" y1="243.24" x2="39.50" y2="243.24" stroke="#1a1a1a" stroke-width="0.8"/>
<text x="33.20" y="244.84" font-size="5.0" text-anchor="end" fill="#1a1a1a">0.4</text>
<line x1="36.40" y1="229.66" x2="39.50" y2="229.66" stroke="#1a1a1a" stroke-width="0.8"/>
<text x="33.20" y="231.26" font-size="5.0" text-anchor="end" fill="#1a1a1a">0.6</text>
<line x1="36.40" y1="216.08" x2="39.50" y2="216.08" stroke="#1a1a1a" stroke-width="0.8"/>
<text x="33.20" y="217.68" font-size="5.0" text-anchor="end" fill="#1a1a1a">0.8</text>
<line x1="36.40" y1="202.50" x2="39.50" y2="202.50" stroke="#1a1a1a" stroke-width="0.8"/>
<text x="33.20" y="204.10" font-size="5.0" text-anchor="end" fill="#1a1a1a">1.0</text>
<line x1="39.00" y1="273.50" x2="252.30" y2="273.50" stroke="#1a1a1a" stroke-width="1"/>
<line x1="49.40" y1="273.50" x2="49.40" y2="276.50" stroke="#1a1a1a" stroke-width="0.8"/>
<text x="49.40" y="283.60" font-size="5.0" text-anchor="middle" fill="#1a1a1a">0</text>
<line x1="57.12" y1="273.50" x2="57.12" y2="276.50" stroke="#1a1a1a" stroke-width="0.8"/>
<text x="57.12" y="283.60" font-size="5.0" text-anchor="middle" fill="#1a1a1a">1</text>
<line x1="64.84" y1="273.50" x2="64.84" y2="276.50" stroke="#1a1a1a" stroke-width="0.8"/>
<text x="64.84" y="283.60" font-size="5.0" text-anchor="middle" fill="#1a1a1a">2</text>
<line x1="72.56" y1="273.50" x2="72.56" y2="276.50" stroke="#1a1a1a" stroke-width="0.8"/>
<text x="72.56" y="283.60" font-size="5.0" text-anchor="middle" fill="#1a1a1a">3</text>
<line x1="80.28" y1="273.50" x2="80.28" y2="276.50" stroke="#1a1a1a" stroke-width="0.8"/>
<text x="80.28" y="283.60" font-size="5.0" text-anchor="middle" fill="#1a1a1a">4</text>
<line x1="88.00" y1="273.50" x2="88.00" y2="276.50" stroke="#1a1a1a" stroke-width="0.8"/>
<text x="88.00" y="283.60" font-size="5.0" text-anchor="middle" fill="#1a1a1a">5</text>
<line x1="95.72" y1="273.50" x2="95.72" y2="276.50" stroke="#1a1a1a" stroke-width="0.8"/>
<text x="95.72" y="283.60" font-size="5.0" text-anchor="middle" fill="#1a1a1a">6</text>
<line x1="103.44" y1="273.50" x2="103.44" y2="276.50" stroke="#1a1a1a" stroke-width="0.8"/>
<text x="103.44" y="283.60" font-size="5.0" text-anchor="middle" fill="#1a1a1a">7</text>
<line x1="111.16" y1="273.50" x2="111.16" y2="276.50" stroke="#1a1a1a" stroke-width="0.8"/>
<text x="111.16" y="283.60" font-size="5.0" text-anchor="middle" fill="#1a1a1a">8</text>
<line x1="118.88" y1="273.50" x2="118.88" y2="276.50" stroke="#1a1a1a" stroke-width="0.8"/>
<text x="118.88" y="283.60" font-size="5.0" text-anchor="middle" fill="#1a1a1a">9</text>
<line x1="126.60" y1="273.50" x2="126.60" y2="276.50" stroke="#1a1a1a" stroke-width="0.8"/>
<text x="126.60" y="283.60" font-size="5.0" text-anchor="middle" fill="#1a1a1a">10</text>
<line x1="134.32" y1="273.50" x2="134.32" y2="276.50" stroke="#1a1a1a" stroke-width="0.8"/>
<text x="134.32" y="283.60" font-size="5.0" text-anchor="middle" fill="#1a1a1a">11</text>
<line x1="142.04" y1="273.50" x2="142.04" y2="276.50" stroke="#1a1a1a" stroke-width="0.8"/>
<text x="142.04" y="283.60" font-size="5.0" text-anchor="middle" fill="#1a1a1a">12</text>
<line x1="149.76" y1="273.50" x2="149.76" y2="276.50" stroke="#1a1a1a" stroke-width="0.8"/>
<text x="149.76" y="283.60" font-size="5.0" text-anchor="middle" fill="#1a1a1a">13</text>
<line x1="157.48" y1="273.50" x2="157.48" y2="276.50" stroke="#1a1a1a" stroke-width="0.8"/>
<text x="157.48" y="283.60" font-size="5.0" text-anchor="middle" fill="#1a1a1a">14</text>
<line x1="165.20" y1="273.50" x2="165.20" y2="276.50" stroke="#1a1a1a" stroke-width="0.8"/>
<text x="165.20" y="283.60" font-size="5.0" text-anchor="middle" fill="#1a1a1a">15</text>
<line x1="172.92" y1="273.50" x2="172.92" y2="276.50" stroke="#1a1a1a" stroke-width="0.8"/>
<text x="172.92" y="283.60" font-size="5.0" text-anchor="middle" fill="#1a1a1a">16</text>
<line x1="180.64" y1="273.50" x2="180.64" y2="276.50" stroke="#1a1a1a" stroke-width="0.8"/>
<text x="180.64" y="283.60" font-size="5.0" text-anchor="middle" fill="#1a1a1a">17</text>
<line x1="188.36" y1="273.50" x2="188.36" y2="276.50" stroke="#1a1a1a" stroke-width="0.8"/>
<text x="188.36" y="283.60" font-size="5.0" text-anchor="middle" fill="#1a1a1a">18</text>
<line x1="196.08" y1="273.50" x2="196.08" y2="276.50" stroke="#1a1a1a" stroke-width="0.8"/>
<text x="196.08" y="283.60" font-size="5.0" text-anchor="middle" fill="#1a1a1a">19</text>
<line x1="203.80" y1="273.50" x2="203.80" y2="276.50" stroke="#1a1a1a" stroke-width="0.8"/>
<text x="203.80" y="283.60" font-size="5.0" text-anchor="middle" fill="#1a1a1a">20</text>
<line x1="211.52" y1="273.50" x2="211.52" y2="276.50" stroke="#1a1a1a" stroke-width="0.8"/>
<text x="211.52" y="283.60" font-size="5.0" text-anchor="middle" fill="#1a1a1a">21</text>
<line x1="219.24" y1="273.50" x2="219.24" y2="276.50" stroke="#1a1a1a" stroke-width="0.8"/>
<text x="219.24" y="283.60" font-size="5.0" text-anchor="middle" fill="#1a1a1a">22</text>
<line x1="226.96" y1="273.50" x2="226.96" y2="276.50" stroke="#1a1a1a" stroke-width="0.8"/>
<text x="226.96" y="283.60" font-size="5.0" text-anchor="middle" fill="#1a1a1a">23</text>
<line x1="234.68" y1="273.50" x2="234.68" y2="276.50" stroke="#1a1a1a" stroke-width="0.8"/>
<text x="234.68" y="283.60" font-size="5.0" text-anchor="middle" fill="#1a1a1a">24</text>
<line x1="242.40" y1="273.50" x2="242.40" y2="276.50" stroke="#1a1a1a" stroke-width="0.8"/>
<text x="242.40" y="283.60" font-size="5.0" text-anchor="middle" fill="#1a1a1a">25</text>
<text x="103.80" y="294.20" font-size="7.5" textLength="84.00" lengthAdjust="spacingAndGlyphs" fill="#1a1a1a" stroke="#1a1a1a" stroke-width="0.2">Time since Inati-cel infusion (months)</text>
<text transform="translate(21.80,236.70) rotate(-90)" font-size="7" text-anchor="middle" stroke="#1a1a1a" stroke-width="0.18" textLength="55.60" lengthAdjust="spacingAndGlyphs" fill="#1a1a1a">Relapse-free survival (%)</text>
<text x="182.60" y="196.00" font-size="5" textLength="62.00" lengthAdjust="spacingAndGlyphs" fill="#1a1a1a">Median relapse-free survival</text>
<text x="182.60" y="201.80" font-size="5" fill="#1a1a1a">(95% CI), months</text>
<text x="182.60" y="210.30" font-size="5" fill="#1a1a1a">12.4(5.2–NE)</text>
<path d="M48.50,203.20 H58.50 V203.80 H60.00 V204.50 H61.90 V205.70 H63.80 V209.40 H71.40 V212.00 H72.60 V215.20 H79.80 V217.90 H88.50 V225.80 H104.10 V229.30 H131.90 V233.50 H145.40 V237.80 H215.40 V246.20 H235.50" fill="none" stroke="#5da956" stroke-width="1.0"/>
<line x1="48.80" y1="202.20" x2="48.80" y2="204.20" stroke="#4a7d43" stroke-width="0.8"/>
<line x1="56.50" y1="202.20" x2="56.50" y2="204.20" stroke="#4a7d43" stroke-width="0.8"/>
<line x1="75.80" y1="214.20" x2="75.80" y2="216.20" stroke="#4a7d43" stroke-width="0.8"/>
<line x1="91.50" y1="224.80" x2="91.50" y2="226.80" stroke="#4a7d43" stroke-width="0.8"/>
<line x1="95.80" y1="224.80" x2="95.80" y2="226.80" stroke="#4a7d43" stroke-width="0.8"/>
<line x1="102.30" y1="224.80" x2="102.30" y2="226.80" stroke="#4a7d43" stroke-width="0.8"/>
<line x1="115.40" y1="228.30" x2="115.40" y2="230.30" stroke="#4a7d43" stroke-width="0.8"/>
<line x1="143.50" y1="232.50" x2="143.50" y2="234.50" stroke="#4a7d43" stroke-width="0.8"/>
<line x1="162.30" y1="236.80" x2="162.30" y2="238.80" stroke="#4a7d43" stroke-width="0.8"/>
<line x1="169.40" y1="236.80" x2="169.40" y2="238.80" stroke="#4a7d43" stroke-width="0.8"/>
<line x1="208.60" y1="236.80" x2="208.60" y2="238.80" stroke="#4a7d43" stroke-width="0.8"/>
<line x1="231.20" y1="245.20" x2="231.20" y2="247.20" stroke="#4a7d43" stroke-width="0.8"/>
<line x1="235.40" y1="245.20" x2="235.40" y2="247.20" stroke="#4a7d43" stroke-width="0.8"/>
<text x="40.00" y="303.60" font-size="5" textLength="32.40" lengthAdjust="spacingAndGlyphs" fill="#1a1a1a">Number at risk</text>
<text x="34.00" y="310.00" font-size="5" text-anchor="end" fill="#62b45c">Treated</text>
<text x="34.00" y="316.90" font-size="5" text-anchor="end" fill="#62b45c">population</text>
<line x1="39.50" y1="308.20" x2="39.50" y2="315.90" stroke="#1a1a1a" stroke-width="1"/>
<line x1="36.90" y1="311.50" x2="39.50" y2="311.50" stroke="#1a1a1a" stroke-width="0.8"/>
<line x1="39.00" y1="315.40" x2="252.30" y2="315.40" stroke="#1a1a1a" stroke-width="1.2"/>
<line x1="49.40" y1="315.40" x2="49.40" y2="318.40" stroke="#1a1a1a" stroke-width="0.8"/>
<text x="49.40" y="326.00" font-size="5.0" text-anchor="middle" fill="#1a1a1a">0</text>
<text x="49.40" y="313.00" font-size="5.0" text-anchor="middle" fill="#1a1a1a">48</text>
<line x1="57.12" y1="315.40" x2="57.12" y2="318.40" stroke="#1a1a1a" stroke-width="0.8"/>
<text x="57.12" y="326.00" font-size="5.0" text-anchor="middle" fill="#1a1a1a">1</text>
<text x="57.12" y="313.00" font-size="5.0" text-anchor="middle" fill="#1a1a1a">46</text>
<line x1="64.84" y1="315.40" x2="64.84" y2="318.40" stroke="#1a1a1a" stroke-width="0.8"/>
<text x="64.84" y="326.00" font-size="5.0" text-anchor="middle" fill="#1a1a1a">2</text>
<text x="64.84" y="313.00" font-size="5.0" text-anchor="middle" fill="#1a1a1a">38</text>
<line x1="72.56" y1="315.40" x2="72.56" y2="318.40" stroke="#1a1a1a" stroke-width="0.8"/>
<text x="72.56" y="326.00" font-size="5.0" text-anchor="middle" fill="#1a1a1a">3</text>
<text x="72.56" y="313.00" font-size="5.0" text-anchor="middle" fill="#1a1a1a">34</text>
<line x1="80.28" y1="315.40" x2="80.28" y2="318.40" stroke="#1a1a1a" stroke-width="0.8"/>
<text x="80.28" y="326.00" font-size="5.0" text-anchor="middle" fill="#1a1a1a">4</text>
<text x="80.28" y="313.00" font-size="5.0" text-anchor="middle" fill="#1a1a1a">24</text>
<line x1="88.00" y1="315.40" x2="88.00" y2="318.40" stroke="#1a1a1a" stroke-width="0.8"/>
<text x="88.00" y="326.00" font-size="5.0" text-anchor="middle" fill="#1a1a1a">5</text>
<text x="88.00" y="313.00" font-size="5.0" text-anchor="middle" fill="#1a1a1a">20</text>
<line x1="95.72" y1="315.40" x2="95.72" y2="318.40" stroke="#1a1a1a" stroke-width="0.8"/>
<text x="95.72" y="326.00" font-size="5.0" text-anchor="middle" fill="#1a1a1a">6</text>
<text x="95.72" y="313.00" font-size="5.0" text-anchor="middle" fill="#1a1a1a">15</text>
<line x1="103.44" y1="315.40" x2="103.44" y2="318.40" stroke="#1a1a1a" stroke-width="0.8"/>
<text x="103.44" y="326.00" font-size="5.0" text-anchor="middle" fill="#1a1a1a">7</text>
<text x="103.44" y="313.00" font-size="5.0" text-anchor="middle" fill="#1a1a1a">12</text>
<line x1="111.16" y1="315.40" x2="111.16" y2="318.40" stroke="#1a1a1a" stroke-width="0.8"/>
<text x="111.16" y="326.00" font-size="5.0" text-anchor="middle" fill="#1a1a1a">8</text>
<text x="111.16" y="313.00" font-size="5.0" text-anchor="middle" fill="#1a1a1a">11</text>
<line x1="118.88" y1="315.40" x2="118.88" y2="318.40" stroke="#1a1a1a" stroke-width="0.8"/>
<text x="118.88" y="326.00" font-size="5.0" text-anchor="middle" fill="#1a1a1a">9</text>
<text x="118.88" y="313.00" font-size="5.0" text-anchor="middle" fill="#1a1a1a">10</text>
<line x1="126.60" y1="315.40" x2="126.60" y2="318.40" stroke="#1a1a1a" stroke-width="0.8"/>
<text x="126.60" y="326.00" font-size="5.0" text-anchor="middle" fill="#1a1a1a">10</text>
<text x="126.60" y="313.00" font-size="5.0" text-anchor="middle" fill="#1a1a1a">10</text>
<line x1="134.32" y1="315.40" x2="134.32" y2="318.40" stroke="#1a1a1a" stroke-width="0.8"/>
<text x="134.32" y="326.00" font-size="5.0" text-anchor="middle" fill="#1a1a1a">11</text>
<text x="134.32" y="313.00" font-size="5.0" text-anchor="middle" fill="#1a1a1a">9</text>
<line x1="142.04" y1="315.40" x2="142.04" y2="318.40" stroke="#1a1a1a" stroke-width="0.8"/>
<text x="142.04" y="326.00" font-size="5.0" text-anchor="middle" fill="#1a1a1a">12</text>
<text x="142.04" y="313.00" font-size="5.0" text-anchor="middle" fill="#1a1a1a">9</text>
<line x1="149.76" y1="315.40" x2="149.76" y2="318.40" stroke="#1a1a1a" stroke-width="0.8"/>
<text x="149.76" y="326.00" font-size="5.0" text-anchor="middle" fill="#1a1a1a">13</text>
<text x="149.76" y="313.00" font-size="5.0" text-anchor="middle" fill="#1a1a1a">7</text>
<line x1="157.48" y1="315.40" x2="157.48" y2="318.40" stroke="#1a1a1a" stroke-width="0.8"/>
<text x="157.48" y="326.00" font-size="5.0" text-anchor="middle" fill="#1a1a1a">14</text>
<text x="157.48" y="313.00" font-size="5.0" text-anchor="middle" fill="#1a1a1a">7</text>
<line x1="165.20" y1="315.40" x2="165.20" y2="318.40" stroke="#1a1a1a" stroke-width="0.8"/>
<text x="165.20" y="326.00" font-size="5.0" text-anchor="middle" fill="#1a1a1a">15</text>
<text x="165.20" y="313.00" font-size="5.0" text-anchor="middle" fill="#1a1a1a">6</text>
<line x1="172.92" y1="315.40" x2="172.92" y2="318.40" stroke="#1a1a1a" stroke-width="0.8"/>
<text x="172.92" y="326.00" font-size="5.0" text-anchor="middle" fill="#1a1a1a">16</text>
<text x="172.92" y="313.00" font-size="5.0" text-anchor="middle" fill="#1a1a1a">5</text>
<line x1="180.64" y1="315.40" x2="180.64" y2="318.40" stroke="#1a1a1a" stroke-width="0.8"/>
<text x="180.64" y="326.00" font-size="5.0" text-anchor="middle" fill="#1a1a1a">17</text>
<text x="180.64" y="313.00" font-size="5.0" text-anchor="middle" fill="#1a1a1a">5</text>
<line x1="188.36" y1="315.40" x2="188.36" y2="318.40" stroke="#1a1a1a" stroke-width="0.8"/>
<text x="188.36" y="326.00" font-size="5.0" text-anchor="middle" fill="#1a1a1a">18</text>
<text x="188.36" y="313.00" font-size="5.0" text-anchor="middle" fill="#1a1a1a">5</text>
<line x1="196.08" y1="315.40" x2="196.08" y2="318.40" stroke="#1a1a1a" stroke-width="0.8"/>
<text x="196.08" y="326.00" font-size="5.0" text-anchor="middle" fill="#1a1a1a">19</text>
<text x="196.08" y="313.00" font-size="5.0" text-anchor="middle" fill="#1a1a1a">5</text>
<line x1="203.80" y1="315.40" x2="203.80" y2="318.40" stroke="#1a1a1a" stroke-width="0.8"/>
<text x="203.80" y="326.00" font-size="5.0" text-anchor="middle" fill="#1a1a1a">20</text>
<text x="203.80" y="313.00" font-size="5.0" text-anchor="middle" fill="#1a1a1a">5</text>
<line x1="211.52" y1="315.40" x2="211.52" y2="318.40" stroke="#1a1a1a" stroke-width="0.8"/>
<text x="211.52" y="326.00" font-size="5.0" text-anchor="middle" fill="#1a1a1a">21</text>
<text x="211.52" y="313.00" font-size="5.0" text-anchor="middle" fill="#1a1a1a">4</text>
<line x1="219.24" y1="315.40" x2="219.24" y2="318.40" stroke="#1a1a1a" stroke-width="0.8"/>
<text x="219.24" y="326.00" font-size="5.0" text-anchor="middle" fill="#1a1a1a">22</text>
<text x="219.24" y="313.00" font-size="5.0" text-anchor="middle" fill="#1a1a1a">3</text>
<line x1="226.96" y1="315.40" x2="226.96" y2="318.40" stroke="#1a1a1a" stroke-width="0.8"/>
<text x="226.96" y="326.00" font-size="5.0" text-anchor="middle" fill="#1a1a1a">23</text>
<text x="226.96" y="313.00" font-size="5.0" text-anchor="middle" fill="#1a1a1a">3</text>
<line x1="234.68" y1="315.40" x2="234.68" y2="318.40" stroke="#1a1a1a" stroke-width="0.8"/>
<text x="234.68" y="326.00" font-size="5.0" text-anchor="middle" fill="#1a1a1a">24</text>
<text x="234.68" y="313.00" font-size="5.0" text-anchor="middle" fill="#1a1a1a">1</text>
<line x1="242.40" y1="315.40" x2="242.40" y2="318.40" stroke="#1a1a1a" stroke-width="0.8"/>
<text x="242.40" y="326.00" font-size="5.0" text-anchor="middle" fill="#1a1a1a">25</text>
<text x="242.40" y="313.00" font-size="5.0" text-anchor="middle" fill="#1a1a1a">0</text>
<text x="103.80" y="335.80" font-size="7.5" textLength="84.00" lengthAdjust="spacingAndGlyphs" fill="#1a1a1a" stroke="#1a1a1a" stroke-width="0.2">Time since Inati-cel infusion (months)</text>
<line x1="112.00" y1="345.60" x2="117.50" y2="345.60" stroke="#5da956" stroke-width="1.1"/>
<text x="120.70" y="347.40" font-size="5" textLength="61.00" lengthAdjust="spacingAndGlyphs" fill="#1a1a1a">Treated population (n = 48)</text>
<text x="267.30" y="187.80" font-size="10.6" font-weight="bold" textLength="8.00" lengthAdjust="spacingAndGlyphs" fill="#000" stroke="#000" stroke-width="0.25">D</text>
<line x1="300.50" y1="200.20" x2="300.50" y2="274.00" stroke="#1a1a1a" stroke-width="1"/>
<line x1="297.40" y1="270.40" x2="300.50" y2="270.40" stroke="#1a1a1a" stroke-width="0.8"/>
<text x="294.20" y="272.00" font-size="5.0" text-anchor="end" fill="#1a1a1a">0.0</text>
<line x1="297.40" y1="256.92" x2="300.50" y2="256.92" stroke="#1a1a1a" stroke-width="0.8"/>
<text x="294.20" y="258.52" font-size="5.0" text-anchor="end" fill="#1a1a1a">0.2</text>
<line x1="297.40" y1="243.44" x2="300.50" y2="243.44" stroke="#1a1a1a" stroke-width="0.8"/>
<text x="294.20" y="245.04" font-size="5.0" text-anchor="end" fill="#1a1a1a">0.4</text>
<line x1="297.40" y1="229.96" x2="300.50" y2="229.96" stroke="#1a1a1a" stroke-width="0.8"/>
<text x="294.20" y="231.56" font-size="5.0" text-anchor="end" fill="#1a1a1a">0.6</text>
<line x1="297.40" y1="216.48" x2="300.50" y2="216.48" stroke="#1a1a1a" stroke-width="0.8"/>
<text x="294.20" y="218.08" font-size="5.0" text-anchor="end" fill="#1a1a1a">0.8</text>
<line x1="297.40" y1="203.00" x2="300.50" y2="203.00" stroke="#1a1a1a" stroke-width="0.8"/>
<text x="294.20" y="204.60" font-size="5.0" text-anchor="end" fill="#1a1a1a">1.0</text>
<line x1="300.00" y1="273.50" x2="512.90" y2="273.50" stroke="#1a1a1a" stroke-width="1"/>
<line x1="309.60" y1="273.50" x2="309.60" y2="276.50" stroke="#1a1a1a" stroke-width="0.8"/>
<text x="309.60" y="283.60" font-size="5.0" text-anchor="middle" fill="#1a1a1a">0</text>
<line x1="317.06" y1="273.50" x2="317.06" y2="276.50" stroke="#1a1a1a" stroke-width="0.8"/>
<text x="317.06" y="283.60" font-size="5.0" text-anchor="middle" fill="#1a1a1a">1</text>
<line x1="324.51" y1="273.50" x2="324.51" y2="276.50" stroke="#1a1a1a" stroke-width="0.8"/>
<text x="324.51" y="283.60" font-size="5.0" text-anchor="middle" fill="#1a1a1a">2</text>
<line x1="331.97" y1="273.50" x2="331.97" y2="276.50" stroke="#1a1a1a" stroke-width="0.8"/>
<text x="331.97" y="283.60" font-size="5.0" text-anchor="middle" fill="#1a1a1a">3</text>
<line x1="339.42" y1="273.50" x2="339.42" y2="276.50" stroke="#1a1a1a" stroke-width="0.8"/>
<text x="339.42" y="283.60" font-size="5.0" text-anchor="middle" fill="#1a1a1a">4</text>
<line x1="346.88" y1="273.50" x2="346.88" y2="276.50" stroke="#1a1a1a" stroke-width="0.8"/>
<text x="346.88" y="283.60" font-size="5.0" text-anchor="middle" fill="#1a1a1a">5</text>
<line x1="354.33" y1="273.50" x2="354.33" y2="276.50" stroke="#1a1a1a" stroke-width="0.8"/>
<text x="354.33" y="283.60" font-size="5.0" text-anchor="middle" fill="#1a1a1a">6</text>
<line x1="361.79" y1="273.50" x2="361.79" y2="276.50" stroke="#1a1a1a" stroke-width="0.8"/>
<text x="361.79" y="283.60" font-size="5.0" text-anchor="middle" fill="#1a1a1a">7</text>
<line x1="369.24" y1="273.50" x2="369.24" y2="276.50" stroke="#1a1a1a" stroke-width="0.8"/>
<text x="369.24" y="283.60" font-size="5.0" text-anchor="middle" fill="#1a1a1a">8</text>
<line x1="376.70" y1="273.50" x2="376.70" y2="276.50" stroke="#1a1a1a" stroke-width="0.8"/>
<text x="376.70" y="283.60" font-size="5.0" text-anchor="middle" fill="#1a1a1a">9</text>
<line x1="384.15" y1="273.50" x2="384.15" y2="276.50" stroke="#1a1a1a" stroke-width="0.8"/>
<text x="384.15" y="283.60" font-size="5.0" text-anchor="middle" fill="#1a1a1a">10</text>
<line x1="391.61" y1="273.50" x2="391.61" y2="276.50" stroke="#1a1a1a" stroke-width="0.8"/>
<text x="391.61" y="283.60" font-size="5.0" text-anchor="middle" fill="#1a1a1a">11</text>
<line x1="399.06" y1="273.50" x2="399.06" y2="276.50" stroke="#1a1a1a" stroke-width="0.8"/>
<text x="399.06" y="283.60" font-size="5.0" text-anchor="middle" fill="#1a1a1a">12</text>
<line x1="406.52" y1="273.50" x2="406.52" y2="276.50" stroke="#1a1a1a" stroke-width="0.8"/>
<text x="406.52" y="283.60" font-size="5.0" text-anchor="middle" fill="#1a1a1a">13</text>
<line x1="413.97" y1="273.50" x2="413.97" y2="276.50" stroke="#1a1a1a" stroke-width="0.8"/>
<text x="413.97" y="283.60" font-size="5.0" text-anchor="middle" fill="#1a1a1a">14</text>
<line x1="421.43" y1="273.50" x2="421.43" y2="276.50" stroke="#1a1a1a" stroke-width="0.8"/>
<text x="421.43" y="283.60" font-size="5.0" text-anchor="middle" fill="#1a1a1a">15</text>
<line x1="428.88" y1="273.50" x2="428.88" y2="276.50" stroke="#1a1a1a" stroke-width="0.8"/>
<text x="428.88" y="283.60" font-size="5.0" text-anchor="middle" fill="#1a1a1a">16</text>
<line x1="436.34" y1="273.50" x2="436.34" y2="276.50" stroke="#1a1a1a" stroke-width="0.8"/>
<text x="436.34" y="283.60" font-size="5.0" text-anchor="middle" fill="#1a1a1a">17</text>
<line x1="443.79" y1="273.50" x2="443.79" y2="276.50" stroke="#1a1a1a" stroke-width="0.8"/>
<text x="443.79" y="283.60" font-size="5.0" text-anchor="middle" fill="#1a1a1a">18</text>
<line x1="451.25" y1="273.50" x2="451.25" y2="276.50" stroke="#1a1a1a" stroke-width="0.8"/>
<text x="451.25" y="283.60" font-size="5.0" text-anchor="middle" fill="#1a1a1a">19</text>
<line x1="458.70" y1="273.50" x2="458.70" y2="276.50" stroke="#1a1a1a" stroke-width="0.8"/>
<text x="458.70" y="283.60" font-size="5.0" text-anchor="middle" fill="#1a1a1a">20</text>
<line x1="466.16" y1="273.50" x2="466.16" y2="276.50" stroke="#1a1a1a" stroke-width="0.8"/>
<text x="466.16" y="283.60" font-size="5.0" text-anchor="middle" fill="#1a1a1a">21</text>
<line x1="473.61" y1="273.50" x2="473.61" y2="276.50" stroke="#1a1a1a" stroke-width="0.8"/>
<text x="473.61" y="283.60" font-size="5.0" text-anchor="middle" fill="#1a1a1a">22</text>
<line x1="481.07" y1="273.50" x2="481.07" y2="276.50" stroke="#1a1a1a" stroke-width="0.8"/>
<text x="481.07" y="283.60" font-size="5.0" text-anchor="middle" fill="#1a1a1a">23</text>
<line x1="488.52" y1="273.50" x2="488.52" y2="276.50" stroke="#1a1a1a" stroke-width="0.8"/>
<text x="488.52" y="283.60" font-size="5.0" text-anchor="middle" fill="#1a1a1a">24</text>
<line x1="495.98" y1="273.50" x2="495.98" y2="276.50" stroke="#1a1a1a" stroke-width="0.8"/>
<text x="495.98" y="283.60" font-size="5.0" text-anchor="middle" fill="#1a1a1a">25</text>
<line x1="503.43" y1="273.50" x2="503.43" y2="276.50" stroke="#1a1a1a" stroke-width="0.8"/>
<text x="503.43" y="283.60" font-size="5.0" text-anchor="middle" fill="#1a1a1a">26</text>
<text x="364.50" y="294.20" font-size="7.5" textLength="84.00" lengthAdjust="spacingAndGlyphs" fill="#1a1a1a" stroke="#1a1a1a" stroke-width="0.2">Time since Inati-cel infusion (months)</text>
<text transform="translate(282.60,237.00) rotate(-90)" font-size="7" text-anchor="middle" stroke="#1a1a1a" stroke-width="0.18" textLength="44.00" lengthAdjust="spacingAndGlyphs" fill="#1a1a1a">Overall survival (%)</text>
<text x="457.30" y="195.60" font-size="5" textLength="50.00" lengthAdjust="spacingAndGlyphs" fill="#1a1a1a">Median overall survival</text>
<text x="457.30" y="202.00" font-size="5" fill="#1a1a1a">(95% CI), months</text>
<text x="457.30" y="210.50" font-size="5" fill="#1a1a1a">NE(13.0–NE)</text>
<path d="M310.30,203.20 H319.40 V204.30 H320.80 V205.60 H322.60 V207.00 H324.00 V208.40 H338.80 V209.70 H348.20 V210.70 H349.80 V211.80 H353.00 V213.00 H365.40 V214.90 H377.30 V216.20 H379.20 V218.10 H386.50 V220.00 H399.00 V221.20 H400.40 V222.70 H401.50 V224.60 H405.40 V226.00 H406.80 V227.30 H411.90 V229.20 H421.50 V231.50 H438.30 V233.30 H502.50" fill="none" stroke="#eaa63f" stroke-width="1.0"/>
<line x1="310.50" y1="202.20" x2="310.50" y2="204.20" stroke="#b07a20" stroke-width="0.8"/>
<line x1="355.40" y1="212.00" x2="355.40" y2="214.00" stroke="#b07a20" stroke-width="0.8"/>
<line x1="357.70" y1="212.00" x2="357.70" y2="214.00" stroke="#b07a20" stroke-width="0.8"/>
<line x1="362.30" y1="212.00" x2="362.30" y2="214.00" stroke="#b07a20" stroke-width="0.8"/>
<line x1="443.90" y1="232.30" x2="443.90" y2="234.30" stroke="#b07a20" stroke-width="0.8"/>
<line x1="448.30" y1="232.30" x2="448.30" y2="234.30" stroke="#b07a20" stroke-width="0.8"/>
<line x1="463.10" y1="232.30" x2="463.10" y2="234.30" stroke="#b07a20" stroke-width="0.8"/>
<line x1="485.50" y1="232.30" x2="485.50" y2="234.30" stroke="#b07a20" stroke-width="0.8"/>
<line x1="488.40" y1="232.30" x2="488.40" y2="234.30" stroke="#b07a20" stroke-width="0.8"/>
<line x1="490.60" y1="232.30" x2="490.60" y2="234.30" stroke="#b07a20" stroke-width="0.8"/>
<line x1="497.00" y1="232.30" x2="497.00" y2="234.30" stroke="#b07a20" stroke-width="0.8"/>
<line x1="502.10" y1="232.30" x2="502.10" y2="234.30" stroke="#b07a20" stroke-width="0.8"/>
<text x="300.00" y="303.60" font-size="5" textLength="32.40" lengthAdjust="spacingAndGlyphs" fill="#1a1a1a">Number at risk</text>
<text x="295.00" y="310.00" font-size="5" text-anchor="end" fill="#efab40">Treated</text>
<text x="295.00" y="316.90" font-size="5" text-anchor="end" fill="#efab40">population</text>
<line x1="300.50" y1="308.20" x2="300.50" y2="315.90" stroke="#1a1a1a" stroke-width="1"/>
<line x1="297.90" y1="311.50" x2="300.50" y2="311.50" stroke="#1a1a1a" stroke-width="0.8"/>
<line x1="300.00" y1="315.40" x2="512.90" y2="315.40" stroke="#1a1a1a" stroke-width="1.2"/>
<line x1="309.60" y1="315.40" x2="309.60" y2="318.40" stroke="#1a1a1a" stroke-width="0.8"/>
<text x="309.60" y="326.00" font-size="5.0" text-anchor="middle" fill="#1a1a1a">0</text>
<text x="309.60" y="313.00" font-size="5.0" text-anchor="middle" fill="#1a1a1a">48</text>
<line x1="317.06" y1="315.40" x2="317.06" y2="318.40" stroke="#1a1a1a" stroke-width="0.8"/>
<text x="317.06" y="326.00" font-size="5.0" text-anchor="middle" fill="#1a1a1a">1</text>
<text x="317.06" y="313.00" font-size="5.0" text-anchor="middle" fill="#1a1a1a">48</text>
<line x1="324.51" y1="315.40" x2="324.51" y2="318.40" stroke="#1a1a1a" stroke-width="0.8"/>
<text x="324.51" y="326.00" font-size="5.0" text-anchor="middle" fill="#1a1a1a">2</text>
<text x="324.51" y="313.00" font-size="5.0" text-anchor="middle" fill="#1a1a1a">44</text>
<line x1="331.97" y1="315.40" x2="331.97" y2="318.40" stroke="#1a1a1a" stroke-width="0.8"/>
<text x="331.97" y="326.00" font-size="5.0" text-anchor="middle" fill="#1a1a1a">3</text>
<text x="331.97" y="313.00" font-size="5.0" text-anchor="middle" fill="#1a1a1a">43</text>
<line x1="339.42" y1="315.40" x2="339.42" y2="318.40" stroke="#1a1a1a" stroke-width="0.8"/>
<text x="339.42" y="326.00" font-size="5.0" text-anchor="middle" fill="#1a1a1a">4</text>
<text x="339.42" y="313.00" font-size="5.0" text-anchor="middle" fill="#1a1a1a">43</text>
<line x1="346.88" y1="315.40" x2="346.88" y2="318.40" stroke="#1a1a1a" stroke-width="0.8"/>
<text x="346.88" y="326.00" font-size="5.0" text-anchor="middle" fill="#1a1a1a">5</text>
<text x="346.88" y="313.00" font-size="5.0" text-anchor="middle" fill="#1a1a1a">42</text>
<line x1="354.33" y1="315.40" x2="354.33" y2="318.40" stroke="#1a1a1a" stroke-width="0.8"/>
<text x="354.33" y="326.00" font-size="5.0" text-anchor="middle" fill="#1a1a1a">6</text>
<text x="354.33" y="313.00" font-size="5.0" text-anchor="middle" fill="#1a1a1a">37</text>
<line x1="361.79" y1="315.40" x2="361.79" y2="318.40" stroke="#1a1a1a" stroke-width="0.8"/>
<text x="361.79" y="326.00" font-size="5.0" text-anchor="middle" fill="#1a1a1a">7</text>
<text x="361.79" y="313.00" font-size="5.0" text-anchor="middle" fill="#1a1a1a">34</text>
<line x1="369.24" y1="315.40" x2="369.24" y2="318.40" stroke="#1a1a1a" stroke-width="0.8"/>
<text x="369.24" y="326.00" font-size="5.0" text-anchor="middle" fill="#1a1a1a">8</text>
<text x="369.24" y="313.00" font-size="5.0" text-anchor="middle" fill="#1a1a1a">33</text>
<line x1="376.70" y1="315.40" x2="376.70" y2="318.40" stroke="#1a1a1a" stroke-width="0.8"/>
<text x="376.70" y="326.00" font-size="5.0" text-anchor="middle" fill="#1a1a1a">9</text>
<text x="376.70" y="313.00" font-size="5.0" text-anchor="middle" fill="#1a1a1a">32</text>
<line x1="384.15" y1="315.40" x2="384.15" y2="318.40" stroke="#1a1a1a" stroke-width="0.8"/>
<text x="384.15" y="326.00" font-size="5.0" text-anchor="middle" fill="#1a1a1a">10</text>
<text x="384.15" y="313.00" font-size="5.0" text-anchor="middle" fill="#1a1a1a">30</text>
<line x1="391.61" y1="315.40" x2="391.61" y2="318.40" stroke="#1a1a1a" stroke-width="0.8"/>
<text x="391.61" y="326.00" font-size="5.0" text-anchor="middle" fill="#1a1a1a">11</text>
<text x="391.61" y="313.00" font-size="5.0" text-anchor="middle" fill="#1a1a1a">28</text>
<line x1="399.06" y1="315.40" x2="399.06" y2="318.40" stroke="#1a1a1a" stroke-width="0.8"/>
<text x="399.06" y="326.00" font-size="5.0" text-anchor="middle" fill="#1a1a1a">12</text>
<text x="399.06" y="313.00" font-size="5.0" text-anchor="middle" fill="#1a1a1a">27</text>
<line x1="406.52" y1="315.40" x2="406.52" y2="318.40" stroke="#1a1a1a" stroke-width="0.8"/>
<text x="406.52" y="326.00" font-size="5.0" text-anchor="middle" fill="#1a1a1a">13</text>
<text x="406.52" y="313.00" font-size="5.0" text-anchor="middle" fill="#1a1a1a">24</text>
<line x1="413.97" y1="315.40" x2="413.97" y2="318.40" stroke="#1a1a1a" stroke-width="0.8"/>
<text x="413.97" y="326.00" font-size="5.0" text-anchor="middle" fill="#1a1a1a">14</text>
<text x="413.97" y="313.00" font-size="5.0" text-anchor="middle" fill="#1a1a1a">22</text>
<line x1="421.43" y1="315.40" x2="421.43" y2="318.40" stroke="#1a1a1a" stroke-width="0.8"/>
<text x="421.43" y="326.00" font-size="5.0" text-anchor="middle" fill="#1a1a1a">15</text>
<text x="421.43" y="313.00" font-size="5.0" text-anchor="middle" fill="#1a1a1a">20</text>
<line x1="428.88" y1="315.40" x2="428.88" y2="318.40" stroke="#1a1a1a" stroke-width="0.8"/>
<text x="428.88" y="326.00" font-size="5.0" text-anchor="middle" fill="#1a1a1a">16</text>
<text x="428.88" y="313.00" font-size="5.0" text-anchor="middle" fill="#1a1a1a">20</text>
<line x1="436.34" y1="315.40" x2="436.34" y2="318.40" stroke="#1a1a1a" stroke-width="0.8"/>
<text x="436.34" y="326.00" font-size="5.0" text-anchor="middle" fill="#1a1a1a">17</text>
<text x="436.34" y="313.00" font-size="5.0" text-anchor="middle" fill="#1a1a1a">20</text>
<line x1="443.79" y1="315.40" x2="443.79" y2="318.40" stroke="#1a1a1a" stroke-width="0.8"/>
<text x="443.79" y="326.00" font-size="5.0" text-anchor="middle" fill="#1a1a1a">18</text>
<text x="443.79" y="313.00" font-size="5.0" text-anchor="middle" fill="#1a1a1a">19</text>
<line x1="451.25" y1="315.40" x2="451.25" y2="318.40" stroke="#1a1a1a" stroke-width="0.8"/>
<text x="451.25" y="326.00" font-size="5.0" text-anchor="middle" fill="#1a1a1a">19</text>
<text x="451.25" y="313.00" font-size="5.0" text-anchor="middle" fill="#1a1a1a">16</text>
<line x1="458.70" y1="315.40" x2="458.70" y2="318.40" stroke="#1a1a1a" stroke-width="0.8"/>
<text x="458.70" y="326.00" font-size="5.0" text-anchor="middle" fill="#1a1a1a">20</text>
<text x="458.70" y="313.00" font-size="5.0" text-anchor="middle" fill="#1a1a1a">16</text>
<line x1="466.16" y1="315.40" x2="466.16" y2="318.40" stroke="#1a1a1a" stroke-width="0.8"/>
<text x="466.16" y="326.00" font-size="5.0" text-anchor="middle" fill="#1a1a1a">21</text>
<text x="466.16" y="313.00" font-size="5.0" text-anchor="middle" fill="#1a1a1a">15</text>
<line x1="473.61" y1="315.40" x2="473.61" y2="318.40" stroke="#1a1a1a" stroke-width="0.8"/>
<text x="473.61" y="326.00" font-size="5.0" text-anchor="middle" fill="#1a1a1a">22</text>
<text x="473.61" y="313.00" font-size="5.0" text-anchor="middle" fill="#1a1a1a">15</text>
<line x1="481.07" y1="315.40" x2="481.07" y2="318.40" stroke="#1a1a1a" stroke-width="0.8"/>
<text x="481.07" y="326.00" font-size="5.0" text-anchor="middle" fill="#1a1a1a">23</text>
<text x="481.07" y="313.00" font-size="5.0" text-anchor="middle" fill="#1a1a1a">15</text>
<line x1="488.52" y1="315.40" x2="488.52" y2="318.40" stroke="#1a1a1a" stroke-width="0.8"/>
<text x="488.52" y="326.00" font-size="5.0" text-anchor="middle" fill="#1a1a1a">24</text>
<text x="488.52" y="313.00" font-size="5.0" text-anchor="middle" fill="#1a1a1a">10</text>
<line x1="495.98" y1="315.40" x2="495.98" y2="318.40" stroke="#1a1a1a" stroke-width="0.8"/>
<text x="495.98" y="326.00" font-size="5.0" text-anchor="middle" fill="#1a1a1a">25</text>
<text x="495.98" y="313.00" font-size="5.0" text-anchor="middle" fill="#1a1a1a">2</text>
<line x1="503.43" y1="315.40" x2="503.43" y2="318.40" stroke="#1a1a1a" stroke-width="0.8"/>
<text x="503.43" y="326.00" font-size="5.0" text-anchor="middle" fill="#1a1a1a">26</text>
<text x="503.43" y="313.00" font-size="5.0" text-anchor="middle" fill="#1a1a1a">0</text>
<text x="364.50" y="335.80" font-size="7.5" textLength="84.00" lengthAdjust="spacingAndGlyphs" fill="#1a1a1a" stroke="#1a1a1a" stroke-width="0.2">Time since Inati-cel infusion (months)</text>
<line x1="371.30" y1="345.50" x2="378.10" y2="345.50" stroke="#eaa63f" stroke-width="1.1"/>
<text x="381.30" y="347.30" font-size="5" textLength="61.00" lengthAdjust="spacingAndGlyphs" fill="#1a1a1a">Treated population (n = 48)</text>
<line x1="0" y1="0.5" x2="520" y2="0.5" stroke="#5e5e5e" stroke-width="1"/>
<line x1="0.5" y1="0" x2="0.5" y2="355" stroke="#727272" stroke-width="1"/>
<line x1="519.5" y1="0" x2="519.5" y2="355" stroke="#555" stroke-width="1"/>
<line x1="0" y1="354.5" x2="520" y2="354.5" stroke="#646464" stroke-width="1"/>
</svg>
</body></html>
